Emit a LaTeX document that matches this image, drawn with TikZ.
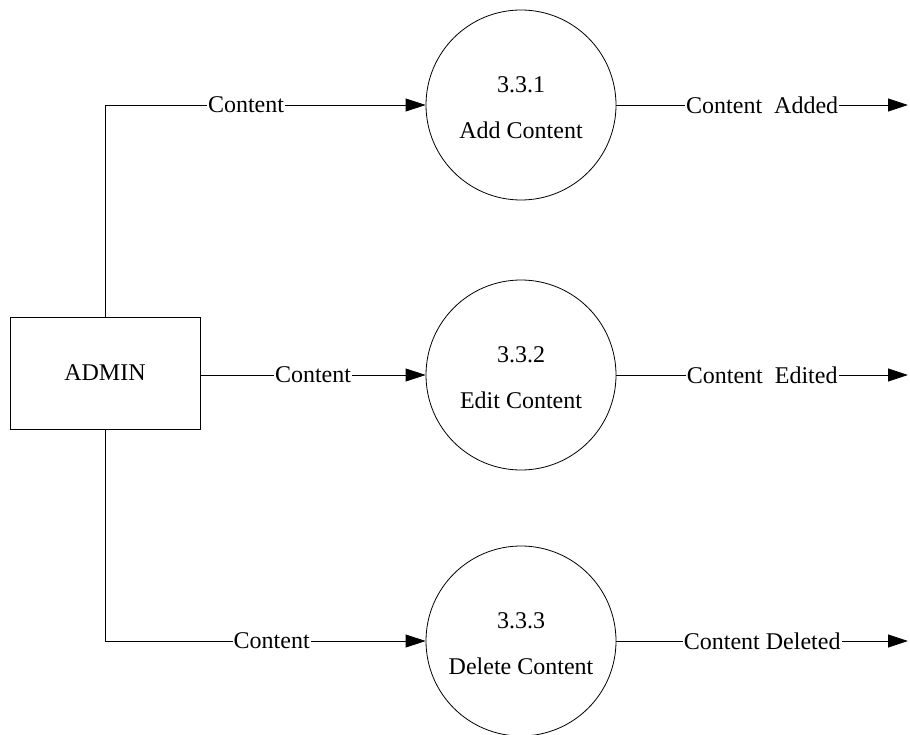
\documentclass[tikz,border=0pt]{standalone}
\usepackage{fontspec}
\setmainfont{Liberation Serif}
\usetikzlibrary{arrows.meta,calc}
\begin{document}
\begin{tikzpicture}[x=1pt,y=-1pt,
  every node/.style={font=\fontsize{24}{28}\selectfont},
  proc/.style={draw,circle,minimum size=190pt,inner sep=0pt,line width=0.8pt},
  ent/.style={draw,rectangle,minimum width=190pt,minimum height=112pt,line width=0.8pt},
  flow/.style={line width=0.8pt,-{Triangle[length=20pt,width=13pt]}},
  lbl/.style={fill=white,inner sep=1pt},
  txt/.style={inner sep=0pt}]
\useasboundingbox (0,0) rectangle (910,735);

% external entity
\node[ent] (admin) at (105,373) {ADMIN};

% processes
\node[proc] (p1) at (521,105) {};
\node[proc] (p2) at (521,375) {};
\node[proc] (p3) at (521,641) {};
\foreach \p/\n/\t in {p1/3.3.1/Add Content,p2/3.3.2/Edit Content,p3/3.3.3/Delete Content}{
  \node[txt] at ($(\p.center)+(0,-20)$) {\n};
  \node[txt] at ($(\p.center)+(0,25)$) {\t};
}

% outgoing flow ends
\coordinate (o1) at (908,105);
\coordinate (o2) at (908,375);
\coordinate (o3) at (908,641);

% input flows
\draw[flow] (admin.north) |- node[lbl,pos=0.72] {Content} (p1.west);
\draw[flow] (admin.east |- p2.west) -- node[lbl,pos=0.5] {Content} (p2.west);
\draw[flow] (admin.south) |- node[lbl,pos=0.76] {Content} (p3.west);

% output flows
\draw[flow] (p1.east) -- node[lbl] {Content\ \ Added} (o1);
\draw[flow] (p2.east) -- node[lbl] {Content\ \ Edited} (o2);
\draw[flow] (p3.east) -- node[lbl] {Content Deleted} (o3);
\end{tikzpicture}
\end{document}
